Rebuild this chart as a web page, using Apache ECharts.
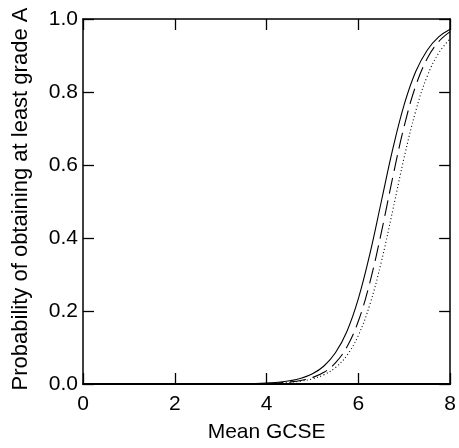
<!DOCTYPE html>
<html>
<head>
<meta charset="utf-8">
<script src="https://cdn.jsdelivr.net/npm/echarts@6/dist/echarts.min.js"></script>
<style>
html,body{margin:0;padding:0;background:#fff;}
#chart{width:459px;height:448px;}
</style>
</head>
<body>
<div id="chart"></div>
<script>
const xValues = [0, 1, 2, 3, 3.5, 4, 4.25, 4.5, 4.75, 5, 5.25, 5.5, 5.75, 6, 6.25, 6.5, 6.75, 7, 7.25, 7.5, 7.75, 8];
const solidValues  = [0, 0, 0, 0.0003, 0.0008, 0.0027, 0.0048, 0.0087, 0.0155, 0.0278, 0.0493, 0.0855, 0.144, 0.234, 0.356, 0.500, 0.644, 0.766, 0.856, 0.9145, 0.951, 0.972];
const dashedValues = [0, 0, 0, 0.0001, 0.0005, 0.0016, 0.0028, 0.0053, 0.0097, 0.0177, 0.0320, 0.0578, 0.1016, 0.1725, 0.278, 0.415, 0.567, 0.707, 0.817, 0.8916, 0.938, 0.9655];
const dottedValues = [0, 0, 0, 0.0001, 0.0004, 0.0013, 0.0024, 0.0044, 0.0079, 0.0142, 0.0254, 0.0449, 0.0783, 0.1333, 0.2176, 0.3347, 0.4763, 0.622, 0.748, 0.8433, 0.9068, 0.9463];
const xTicks = [0, 2, 4, 6, 8];
const yTicks = [0.0, 0.2, 0.4, 0.6, 0.8, 1.0];
const xTitle = 'Mean GCSE';
const yTitle = 'Probability of obtaining at least grade A';

const pairs = vals => xValues.map((x, i) => [x, vals[i]]);
const font = 'Liberation Sans, Arial, sans-serif';
const fs = 21;
const axisLine = w => ({show: true, onZero: false, lineStyle: {color: '#000', width: w}});
const tick = {show: true, inside: true, length: 11, lineStyle: {color: '#000', width: 1.3}};

const chart = echarts.init(document.getElementById('chart'), null, {renderer: 'canvas'});
chart.setOption({
  animation: false,
  backgroundColor: '#fff',
  grid: {left: 83, top: 19, right: 8, bottom: 60, containLabel: false},
  xAxis: [{
    type: 'value', min: xTicks[0], max: xTicks[xTicks.length - 1], interval: 2,
    position: 'bottom',
    name: xTitle, nameLocation: 'middle', nameGap: 38,
    nameTextStyle: {color: '#000', fontSize: fs, fontFamily: font},
    axisLine: axisLine(2), axisTick: tick,
    axisLabel: {color: '#000', fontSize: fs, fontFamily: font, margin: 10},
    splitLine: {show: false}
  }, {
    type: 'value', min: xTicks[0], max: xTicks[xTicks.length - 1], interval: 2,
    position: 'top',
    axisLine: axisLine(1.5), axisTick: tick, axisLabel: {show: false}, splitLine: {show: false}
  }],
  yAxis: [{
    type: 'value', min: yTicks[0], max: yTicks[yTicks.length - 1], interval: 0.2,
    position: 'left',
    name: yTitle, nameLocation: 'middle', nameGap: 51,
    nameTextStyle: {color: '#000', fontSize: 22, fontFamily: font, padding: [0, 0, 0, 5]},
    axisLine: axisLine(1.5), axisTick: tick,
    axisLabel: {color: '#000', fontSize: fs, fontFamily: font, margin: 5, formatter: v => v.toFixed(1)},
    splitLine: {show: false}
  }, {
    type: 'value', min: yTicks[0], max: yTicks[yTicks.length - 1], interval: 0.2,
    position: 'right',
    axisLine: axisLine(1.5), axisTick: tick, axisLabel: {show: false}, splitLine: {show: false}
  }],
  series: [{
    type: 'line', data: pairs(solidValues), smooth: 0.4, showSymbol: false,
    lineStyle: {color: '#000', width: 1.1, type: 'solid'}
  }, {
    type: 'line', data: pairs(dashedValues), smooth: 0.4, showSymbol: false,
    lineStyle: {color: '#000', width: 1.1, type: [16, 7]}
  }, {
    type: 'line', data: pairs(dottedValues), smooth: 0.4, showSymbol: false,
    lineStyle: {color: '#000', width: 1.1, type: [1, 2.5]}
  }]
});
</script>
</body>
</html>
